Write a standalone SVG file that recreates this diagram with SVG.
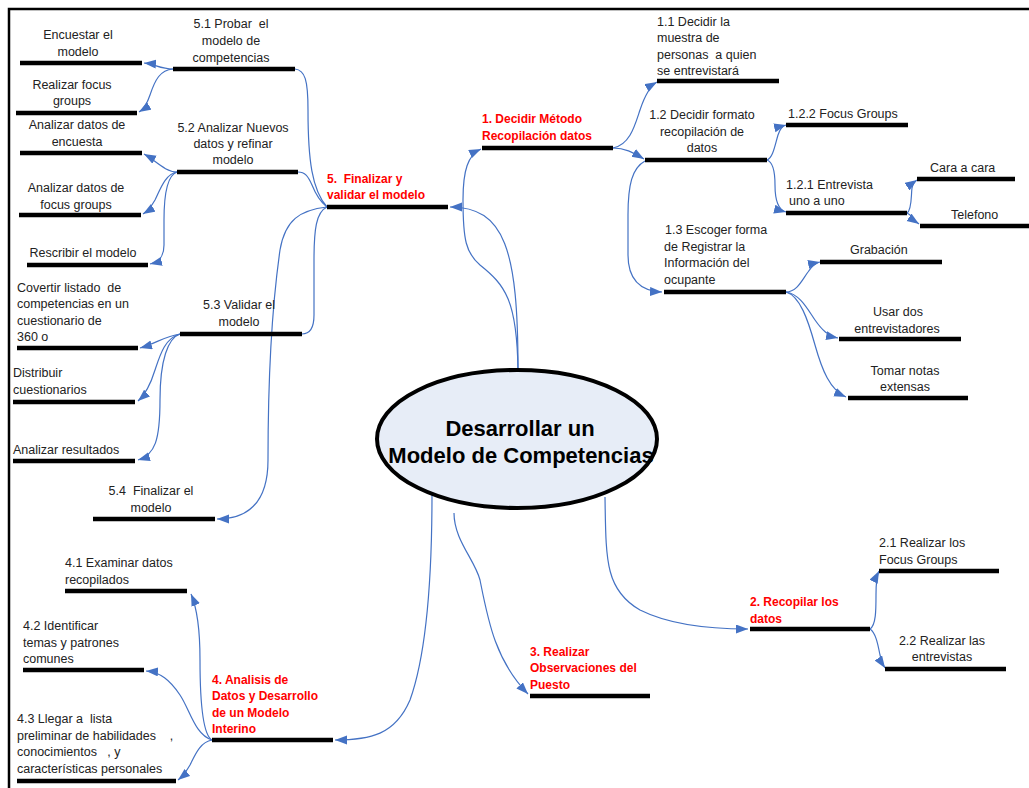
<svg xmlns="http://www.w3.org/2000/svg" width="1029" height="788" viewBox="0 0 1029 788">
<style>
text{font-family:"Liberation Sans",Arial,sans-serif;font-size:12.5px;fill:#222;white-space:pre}
.r{fill:#ff0000;font-weight:bold;font-size:12px}
.m{text-anchor:middle}
.bar{stroke:#000;stroke-width:4.5;fill:none}
.c{fill:none;stroke:#4472c4;stroke-width:1.2}
.a{marker-end:url(#ah)}
</style>
<defs>
<marker id="ah" markerUnits="userSpaceOnUse" markerWidth="13" markerHeight="10" refX="12" refY="4.5" orient="auto">
<path d="M0,0 L12,4.5 L0,9 z" fill="#4472c4"/>
</marker>
</defs>
<rect width="1029" height="788" fill="#fff"/>
<path d="M9,788 V9 H1029" fill="none" stroke="#000" stroke-width="2.5"/>

<g id="connectors">
<path class="c a" d="M518,370 C518,250 505,207 450,207"/>
<path class="c a" d="M518,370 C517,300 505,285 480,265 C466,253 463,240 463,200 C463,170 468,155 481,149"/>
<path class="c a" d="M432,494 C432,560 428,650 410,700 C395,735 370,740 335,740"/>
<path class="c a" d="M454,513 C454,540 475,560 480,580 C488,620 495,660 528,694"/>
<path class="c a" d="M605,497 C606,560 605,590 640,610 C670,625 710,629 748,629"/>

<path class="c" d="M327,207 C312,190 308,160 308,110 C308,80 305,70 295,69"/>
<path class="c" d="M327,207 C318,200 314,190 312,185 C308,176 305,172 298,172"/>
<path class="c" d="M327,207 C316,212 314,230 314,260 L314,315 C314,328 310,334 302,334"/>
<path class="c a" d="M327,207 C300,210 285,220 280,250 C270,320 268,400 268,460 C268,500 250,519 217,519"/>

<path class="c a" d="M173,69 C160,69 155,64 144,63"/>
<path class="c a" d="M173,69 C160,70 155,80 150,95 C147,104 144,109 139,112"/>
<path class="c a" d="M177,172 C165,172 155,160 144,154"/>
<path class="c a" d="M177,172 C165,174 160,190 155,200 C151,207 148,211 143,214"/>
<path class="c a" d="M177,172 C168,175 164,190 164,220 L164,245 C164,257 159,262 150,264"/>

<path class="c a" d="M180,334 C165,336 155,344 140,348"/>
<path class="c a" d="M180,334 C165,338 160,355 155,370 C151,383 146,394 138,401"/>
<path class="c a" d="M180,334 C168,338 160,360 160,400 C160,440 155,455 138,460"/>

<path class="c a" d="M212,740 C203,735 200,700 200,660 C200,630 197,608 191,594"/>
<path class="c a" d="M212,740 C195,735 190,710 180,695 C170,680 160,672 146,671"/>
<path class="c a" d="M212,740 C200,742 195,755 190,765 C186,772 183,776 178,780"/>

<path class="c a" d="M613,148 C630,145 635,125 640,110 C645,95 650,86 657,82"/>
<path class="c a" d="M613,148 C625,148 632,152 644,159"/>
<path class="c a" d="M645,161 C632,168 628,185 628,215 L628,255 C628,280 640,291 662,292"/>

<path class="c a" d="M767,160 C773,158 775,145 778,135 C780,129 782,126 786,125"/>
<path class="c a" d="M767,160 C773,162 775,170 775,185 C775,200 778,210 786,212"/>
<path class="c a" d="M907,213 C912,210 911,195 912,188 C913,184 914,182 917,180"/>
<path class="c a" d="M907,213 C912,215 913,220 919,224"/>

<path class="c a" d="M786,292 C797,292 802,280 808,272 C812,266 815,263 820,262"/>
<path class="c a" d="M786,292 C800,294 808,310 815,320 C822,330 828,336 838,338"/>
<path class="c a" d="M786,292 C800,296 808,320 815,345 C822,370 830,390 846,397"/>

<path class="c a" d="M870,629 C876,625 876,610 876,595 C876,582 877,575 879,571"/>
<path class="c a" d="M870,629 C876,633 878,645 880,655 C882,662 883,665 885,668"/>
</g>

<g id="center">
<ellipse cx="517" cy="439" rx="140" ry="69" fill="#e7edf7" stroke="#000" stroke-width="4"/>
<text class="m" x="520" y="436" style="font-size:22px;font-weight:bold;fill:#000">Desarrollar un</text>
<text class="m" x="521" y="463" style="font-size:22px;font-weight:bold;fill:#000">Modelo de Competencias</text>
</g>

<g id="n5">
<line class="bar" x1="327" y1="207" x2="448" y2="207"/>
<text class="r" x="327" y="183">5.  Finalizar y</text>
<text class="r" x="327" y="199">validar el modelo</text>
</g>
<g id="n5_1">
<line class="bar" x1="173" y1="69" x2="295" y2="69"/>
<text class="m" x="231" y="28">5.1 Probar  el</text>
<text class="m" x="231" y="45">modelo de</text>
<text class="m" x="231" y="62">competencias</text>
</g>
<g id="n5_1a">
<line class="bar" x1="20" y1="63" x2="142" y2="63"/>
<text class="m" x="78" y="39">Encuestar el</text>
<text class="m" x="78" y="56">modelo</text>
</g>
<g id="n5_1b">
<line class="bar" x1="16" y1="113" x2="137" y2="113"/>
<text class="m" x="72" y="89">Realizar focus</text>
<text class="m" x="72" y="105">groups</text>
</g>
<g id="n5_2">
<line class="bar" x1="177" y1="172" x2="298" y2="172"/>
<text class="m" x="233" y="132">5.2 Analizar Nuevos</text>
<text class="m" x="233" y="148">datos y refinar</text>
<text class="m" x="233" y="164">modelo</text>
</g>
<g id="n5_2a">
<line class="bar" x1="20" y1="153" x2="142" y2="153"/>
<text class="m" x="77" y="129">Analizar datos de</text>
<text class="m" x="77" y="146">encuesta</text>
</g>
<g id="n5_2b">
<line class="bar" x1="19" y1="215" x2="141" y2="215"/>
<text class="m" x="76" y="192">Analizar datos de</text>
<text class="m" x="76" y="209">focus groups</text>
</g>
<g id="n5_2c">
<line class="bar" x1="27" y1="265" x2="148" y2="265"/>
<text class="m" x="83" y="257">Rescribir el modelo</text>
</g>
<g id="n5_3">
<line class="bar" x1="180" y1="334" x2="302" y2="334"/>
<text class="m" x="239" y="309">5.3 Validar el</text>
<text class="m" x="239" y="326">modelo</text>
</g>
<g id="n5_3a">
<line class="bar" x1="17" y1="348" x2="138" y2="348"/>
<text x="17" y="292">Covertir listado  de</text>
<text x="17" y="308">competencias en un</text>
<text x="17" y="325">cuestionario de</text>
<text x="17" y="341">360 o</text>
</g>
<g id="n5_3b">
<line class="bar" x1="13" y1="402" x2="135" y2="402"/>
<text x="13" y="377">Distribuir</text>
<text x="13" y="394">cuestionarios</text>
</g>
<g id="n5_3c">
<line class="bar" x1="13" y1="461" x2="135" y2="461"/>
<text x="13" y="454">Analizar resultados</text>
</g>
<g id="n5_4">
<line class="bar" x1="93" y1="519" x2="215" y2="519"/>
<text class="m" x="151" y="495">5.4  Finalizar el</text>
<text class="m" x="151" y="512">modelo</text>
</g>

<g id="n1">
<line class="bar" x1="482" y1="148" x2="613" y2="148"/>
<text class="r" x="482" y="123">1. Decidir Método</text>
<text class="r" x="482" y="140">Recopilación datos</text>
</g>
<g id="n1_1">
<line class="bar" x1="657" y1="81" x2="779" y2="81"/>
<text x="657" y="26">1.1 Decidir la</text>
<text x="657" y="42">muestra de</text>
<text x="657" y="59">personas  a quien</text>
<text x="657" y="75">se entrevistará</text>
</g>
<g id="n1_2">
<line class="bar" x1="645" y1="160" x2="767" y2="160"/>
<text class="m" x="702" y="119">1.2 Decidir formato</text>
<text class="m" x="702" y="136">recopilación de</text>
<text class="m" x="702" y="152">datos</text>
</g>
<g id="n1_2_2">
<line class="bar" x1="786" y1="125" x2="908" y2="125"/>
<text x="788" y="118">1.2.2 Focus Groups</text>
</g>
<g id="n1_2_1">
<line class="bar" x1="786" y1="213" x2="907" y2="213"/>
<text x="786" y="189">1.2.1 Entrevista</text>
<text x="789" y="205">uno a uno</text>
</g>
<g id="n_cara">
<line class="bar" x1="917" y1="179" x2="1015" y2="179"/>
<text x="930" y="172">Cara a cara</text>
</g>
<g id="n_tel">
<line class="bar" x1="920" y1="226" x2="1029" y2="226"/>
<text x="951" y="219">Telefono</text>
</g>
<g id="n1_3">
<line class="bar" x1="664" y1="292" x2="786" y2="292"/>
<text x="665" y="234">1.3 Escoger forma</text>
<text x="664" y="251">de Registrar la</text>
<text x="664" y="267">Información del</text>
<text x="664" y="284">ocupante</text>
</g>
<g id="n_grab">
<line class="bar" x1="820" y1="262" x2="942" y2="262"/>
<text x="850" y="254">Grabación</text>
</g>
<g id="n_usar">
<line class="bar" x1="839" y1="339" x2="961" y2="339"/>
<text class="m" x="898" y="316">Usar dos</text>
<text class="m" x="897" y="333">entrevistadores</text>
</g>
<g id="n_tomar">
<line class="bar" x1="848" y1="398" x2="968" y2="398"/>
<text class="m" x="905" y="375">Tomar notas</text>
<text class="m" x="905" y="391">extensas</text>
</g>

<g id="n2">
<line class="bar" x1="750" y1="629" x2="870" y2="629"/>
<text class="r" x="750" y="606">2. Recopilar los</text>
<text class="r" x="750" y="623">datos</text>
</g>
<g id="n2_1">
<line class="bar" x1="879" y1="571" x2="999" y2="571"/>
<text x="879" y="547">2.1 Realizar los</text>
<text x="879" y="564">Focus Groups</text>
</g>
<g id="n2_2">
<line class="bar" x1="885" y1="669" x2="1006" y2="669"/>
<text class="m" x="942" y="645">2.2 Realizar las</text>
<text class="m" x="942" y="661">entrevistas</text>
</g>

<g id="n3">
<line class="bar" x1="530" y1="696" x2="650" y2="696"/>
<text class="r" x="530" y="656">3. Realizar</text>
<text class="r" x="530" y="672">Observaciones del</text>
<text class="r" x="530" y="689">Puesto</text>
</g>

<g id="n4">
<line class="bar" x1="212" y1="740" x2="333" y2="740"/>
<text class="r" x="212" y="684">4. Analisis de</text>
<text class="r" x="212" y="700">Datos y Desarrollo</text>
<text class="r" x="212" y="717">de un Modelo</text>
<text class="r" x="212" y="733">Interino</text>
</g>
<g id="n4_1">
<line class="bar" x1="65" y1="591" x2="187" y2="591"/>
<text x="65" y="567">4.1 Examinar datos</text>
<text x="65" y="584">recopilados</text>
</g>
<g id="n4_2">
<line class="bar" x1="23" y1="670" x2="144" y2="670"/>
<text x="23" y="630">4.2 Identificar</text>
<text x="23" y="647">temas y patrones</text>
<text x="23" y="663">comunes</text>
</g>
<g id="n4_3">
<line class="bar" x1="17" y1="781" x2="176" y2="781"/>
<text x="17" y="723">4.3 Llegar a  lista</text>
<text x="17" y="740">preliminar de habilidades    ,</text>
<text x="17" y="756">conocimientos   , y</text>
<text x="17" y="773">características personales</text>
</g>
</svg>
